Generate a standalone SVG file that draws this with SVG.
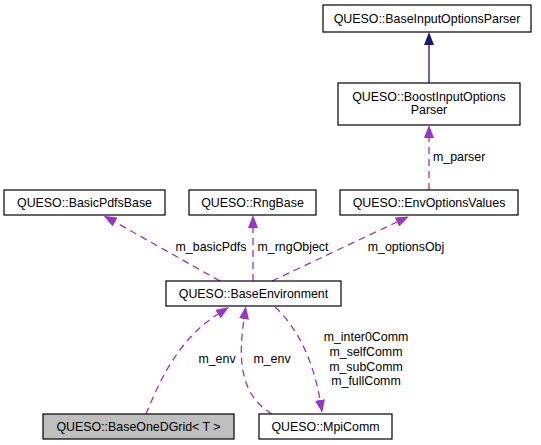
<svg xmlns="http://www.w3.org/2000/svg" width="541" height="445" viewBox="0 0 541 445">
<style>
.box{fill:#ffffff;stroke:#000000;stroke-width:1.2}
.cur{fill:#bfbfbf}
.t{font-family:"Liberation Sans",Arial,sans-serif;font-size:12.4px;fill:#000000;text-anchor:middle}
.lbl{font-family:"Liberation Sans",Arial,sans-serif;font-size:12.4px;fill:#000000}
.use{fill:none;stroke:#9a32cd;stroke-width:1.3;stroke-dasharray:7,5}
.inh{fill:none;stroke:#191970;stroke-width:1.3}
</style>
<defs>
<marker id="ap" viewBox="0 0 13 10" refX="0" refY="5" markerWidth="13" markerHeight="10" markerUnits="userSpaceOnUse" orient="auto">
<path d="M0,0 L13,5 L0,10 z" fill="#9a32cd" stroke="none"/>
</marker>
<marker id="an" viewBox="0 0 13 10" refX="0" refY="5" markerWidth="13" markerHeight="10" markerUnits="userSpaceOnUse" orient="auto">
<path d="M0,0 L13,5 L0,10 z" fill="#191970" stroke="none"/>
</marker>
</defs>
<g id="connectors">
<path class="inh" d="M429,83 L429,45" marker-end="url(#an)"/>
<path class="use" d="M429,190 L429,138" marker-end="url(#ap)"/>
<path class="use" d="M220,281 L115,222" marker-end="url(#ap)"/>
<path class="use" d="M253,281 L253,228" marker-end="url(#ap)"/>
<path class="use" d="M272,281 L397,222" marker-end="url(#ap)"/>
<path class="use" d="M146,414 C160,380 178,340 218,314" marker-end="url(#ap)"/>
<path class="use" d="M272,414 C240,395 238,360 244,319" marker-end="url(#ap)"/>
<path class="use" d="M275,307 C300,330 314,365 320,400" marker-end="url(#ap)"/>
<text class="lbl" x="433" y="161">m_parser</text>
<text class="t" x="211" y="251">m_basicPdfs</text>
<text class="t" x="293" y="251">m_rngObject</text>
<text class="t" x="406" y="251">m_optionsObj</text>
<text class="t" x="217" y="363">m_env</text>
<text class="t" x="272" y="363">m_env</text>
<text class="t" x="366" y="341">m_inter0Comm</text>
<text class="t" x="366" y="356">m_selfComm</text>
<text class="t" x="366" y="371">m_subComm</text>
<text class="t" x="366" y="385">m_fullComm</text>
</g>
<g id="BaseInputOptionsParser">
<rect class="box" x="323" y="5" width="208" height="27"/>
<text class="t" x="427" y="23">QUESO::BaseInputOptionsParser</text>
</g>
<g id="BoostInputOptionsParser">
<rect class="box" x="338" y="83" width="182" height="42"/>
<text class="t" x="429" y="101">QUESO::BoostInputOptions</text>
<text class="t" x="429" y="114">Parser</text>
</g>
<g id="EnvOptionsValues">
<rect class="box" x="340" y="190" width="178" height="25"/>
<text class="t" x="429" y="207">QUESO::EnvOptionsValues</text>
</g>
<g id="BasicPdfsBase">
<rect class="box" x="4" y="190" width="161" height="25"/>
<text class="t" x="84.5" y="207">QUESO::BasicPdfsBase</text>
</g>
<g id="RngBase">
<rect class="box" x="189" y="190" width="127" height="25"/>
<text class="t" x="252.5" y="207">QUESO::RngBase</text>
</g>
<g id="BaseEnvironment">
<rect class="box" x="166" y="281" width="175" height="25"/>
<text class="t" x="253.5" y="298">QUESO::BaseEnvironment</text>
</g>
<g id="BaseOneDGrid">
<rect class="box cur" x="43" y="414" width="191" height="25"/>
<text class="t" x="138.5" y="431">QUESO::BaseOneDGrid&lt; T &gt;</text>
</g>
<g id="MpiComm">
<rect class="box" x="259" y="414" width="133" height="25"/>
<text class="t" x="325.5" y="431">QUESO::MpiComm</text>
</g>
</svg>
